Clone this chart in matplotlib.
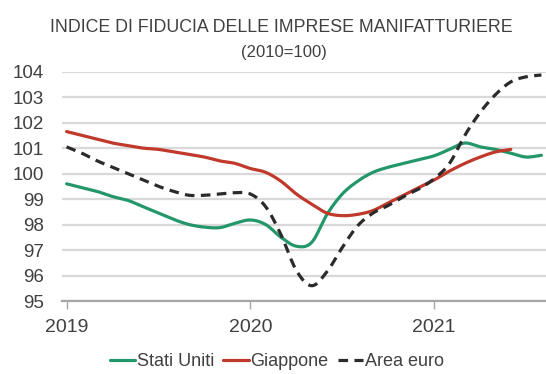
import numpy as np
import matplotlib
matplotlib.use("Agg")
import matplotlib.pyplot as plt
from matplotlib import font_manager

# Monthly index values, January 2019 onward (2010=100)
stati_uniti = [99.6, 99.45, 99.3, 99.1, 98.95, 98.7, 98.45, 98.2, 98.0, 97.9,
               97.88, 98.05, 98.18, 98.0, 97.5, 97.15, 97.3, 98.4, 99.2, 99.7,
               100.05, 100.25, 100.4, 100.55, 100.7, 100.95, 101.2, 101.05,
               100.95, 100.8, 100.65, 100.72]
giappone = [101.65, 101.5, 101.35, 101.2, 101.1, 101.0, 100.95, 100.85, 100.75,
            100.65, 100.5, 100.4, 100.2, 100.05, 99.7, 99.2, 98.8, 98.45, 98.35,
            98.4, 98.55, 98.85, 99.15, 99.45, 99.75, 100.1, 100.4, 100.65,
            100.85, 100.95]
area_euro = [101.05, 100.8, 100.5, 100.25, 100.0, 99.75, 99.5, 99.3, 99.15, 99.15,
             99.2, 99.25, 99.2, 98.7, 97.6, 96.2, 95.6, 96.15, 97.1, 97.95,
             98.45, 98.75, 99.1, 99.4, 99.8, 100.4, 101.5, 102.4, 103.1, 103.6,
             103.8, 103.87]
year_labels = ["2019", "2020", "2021"]
y_ticks = [95, 96, 97, 98, 99, 100, 101, 102, 103, 104]

title = "INDICE DI FIDUCIA DELLE IMPRESE MANIFATTURIERE"
subtitle = "(2010=100)"
series_names = ["Stati Uniti", "Giappone", "Area euro"]


def pick_font():
    names = {f.name for f in font_manager.fontManager.ttflist}
    for n in ["Liberation Sans Narrow", "Liberation Sans", "DejaVu Sans"]:
        if n in names:
            return n
    return "DejaVu Sans"


FONT = pick_font()
plt.rcParams["font.family"] = [FONT, "DejaVu Sans"]


def smooth(values, steps=12):
    """Catmull-Rom curve through the monthly points (smoothed line style)."""
    y = np.asarray(values, dtype=float)
    x = np.arange(len(y), dtype=float)
    px = np.concatenate([[2 * x[0] - x[1]], x, [2 * x[-1] - x[-2]]])
    py = np.concatenate([[2 * y[0] - y[1]], y, [2 * y[-1] - y[-2]]])
    xs, ys = [], []
    t = np.linspace(0, 1, steps, endpoint=False)
    for i in range(1, len(px) - 2):
        p0, p1, p2, p3 = py[i - 1], py[i], py[i + 1], py[i + 2]
        q0, q1, q2, q3 = px[i - 1], px[i], px[i + 1], px[i + 2]
        f = lambda a0, a1, a2, a3: 0.5 * ((2 * a1) + (-a0 + a2) * t
                                          + (2 * a0 - 5 * a1 + 4 * a2 - a3) * t ** 2
                                          + (-a0 + 3 * a1 - 3 * a2 + a3) * t ** 3)
        xs.append(f(q0, q1, q2, q3))
        ys.append(f(p0, p1, p2, p3))
    xs.append([x[-1]])
    ys.append([y[-1]])
    return np.concatenate(xs), np.concatenate(ys)


fig = plt.figure(figsize=(5.46, 3.74), dpi=100)
ax = fig.add_axes([62 / 546, 73 / 374, 484 / 546, 229.3 / 374])

for v in y_ticks:
    ax.axhline(v, color="#d9d9d9", lw=1.6, zorder=1)

green = "#23976a"
red = "#c0392b"
dark = "#2b2b2b"

xg, yg = smooth(stati_uniti)
ax.plot(xg, yg, color=green, lw=2.3, zorder=3, label=series_names[0],
        solid_capstyle="round")
xr, yr = smooth(giappone)
ax.plot(xr, yr, color=red, lw=2.3, zorder=3, label=series_names[1],
        solid_capstyle="round")
xe, ye = smooth(area_euro)
ax.plot(xe, ye, color=dark, lw=2.3, ls=(0, (3, 2)), zorder=4,
        label=series_names[2])

ax.set_xlim(-0.3, 31.3)
ax.set_ylim(95, 104)
ax.set_yticks(y_ticks)
ax.set_yticklabels([str(v) for v in y_ticks], fontsize=13.5, color="#404040")
ax.set_xticks([0, 12, 24])
ax.set_xticklabels(year_labels, fontsize=14, color="#404040")
ax.tick_params(axis="y", length=0, pad=13)
ax.tick_params(axis="x", direction="out", length=6, width=1, color="#a6a6a6",
               pad=7)

for s in ["top", "right", "left"]:
    ax.spines[s].set_visible(False)
ax.spines["bottom"].set_color("#a6a6a6")
ax.spines["bottom"].set_linewidth(1.6)
ax.spines["bottom"].set_zorder(2)

fig.text(0.515, 0.927, title, ha="center", va="center", fontsize=12.8,
         color="#404040")
fig.text(0.52, 0.86, subtitle, ha="center", va="center", fontsize=12,
         color="#404040")

leg = fig.legend(loc="center", bbox_to_anchor=(0.507, 0.033), ncol=3,
                 frameon=False, fontsize=13, handlelength=1.4,
                 handletextpad=0.1, columnspacing=0.5, labelcolor="#404040")

fig.savefig("out.png", dpi=100)
